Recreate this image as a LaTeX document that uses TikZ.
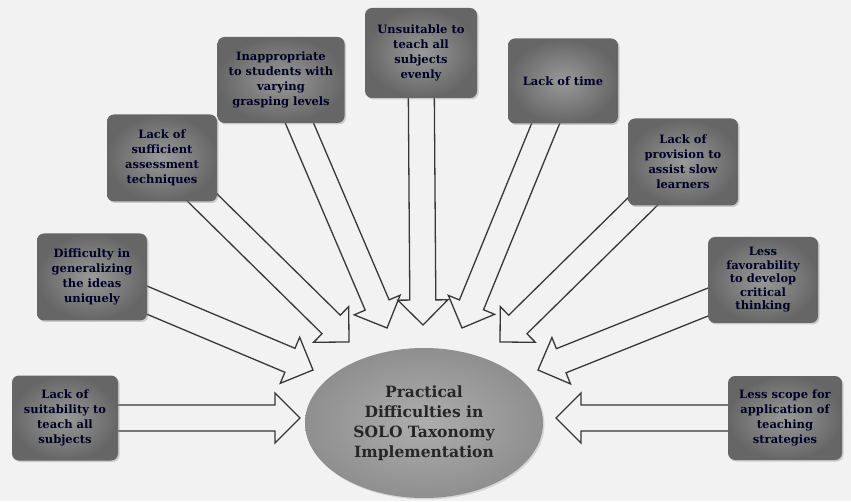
\documentclass[tikz,border=0pt]{standalone}
\usepackage{fontspec}
\setmainfont{DejaVu Serif}
\usetikzlibrary{calc,backgrounds,shadows,shapes.geometric}

% arrow body: half shaft width, half head width, head length
\def\shaftw{13pt}
\def\headw{25pt}
\def\headlen{25}

\tikzset{
  cause/.style={rectangle, rounded corners=7pt, minimum width=110pt, minimum height=87pt,
    inner sep=2pt, align=center, shading=radial, inner color=black!40, outer color=black!60,
    drop shadow={opacity=0.35, shadow xshift=1.5pt, shadow yshift=-1.5pt},
    text=black!85!blue, font=\bfseries\fontsize{11.5}{15}\selectfont},
  hub/.style={ellipse, minimum width=238pt, minimum height=150pt, inner sep=0pt,
    align=center, shading=radial, inner color=black!32, outer color=black!44,
    drop shadow={opacity=0.25, shadow xshift=1.5pt, shadow yshift=-1.5pt},
    text=black!85, font=\bfseries\fontsize{15.5}{20}\selectfont},
  arrowline/.style={draw=black!78, line width=1.3pt, line join=miter}
}

% hollow block arrow from a node (centre) to a tip coordinate
\newcommand{\hollowarrow}[2]{%
  \draw[arrowline] let \p1=($(#2)-(#1)$), \n1={atan2(\y1,\x1)},
      \n2={veclen(\x1,\y1)-\headlen} in
    ($(#1)+(\n1-90:\shaftw)$) -- ($(#1)+(\n1:\n2)+(\n1-90:\shaftw)$)
    -- ($(#1)+(\n1:\n2)+(\n1-90:\headw)$) -- (#2)
    -- ($(#1)+(\n1:\n2)+(\n1+90:\headw)$) -- ($(#1)+(\n1:\n2)+(\n1+90:\shaftw)$)
    -- ($(#1)+(\n1+90:\shaftw)$);
}

\begin{document}
\begin{tikzpicture}[x=1pt,y=1pt]
  \useasboundingbox (0,0) rectangle (851,501);

  \node[hub] (hub) at (424,78) {Practical\\Difficulties in\\SOLO Taxonomy\\Implementation};

  \node[cause, minimum width=106pt, minimum height=85pt] (suit) at (65,83) {Lack of\\suitability to\\teach all\\subjects};
  \node[cause] (general) at (92,224) {Difficulty in\\generalizing\\the ideas\\uniquely};
  \node[cause] (assess) at (162,343) {Lack of\\sufficient\\assessment\\techniques};
  \node[cause, minimum width=127pt, minimum height=86pt] (grasp) at (281,421) {Inappropriate\\to students with\\varying\\grasping levels};
  \node[cause, minimum width=112pt, minimum height=90pt] (evenly) at (421,448) {Unsuitable to\\teach all\\subjects\\evenly};
  \node[cause, minimum height=85pt] (lacktime) at (563,420) {Lack of time};
  \node[cause] (slow) at (683,339) {Lack of\\provision to\\assist slow\\learners};
  \node[cause, minimum height=86pt, font=\bfseries\fontsize{11.5}{13.5}\selectfont] (critical) at (763,221) {Less\\favorability\\to develop\\critical\\thinking};
  \node[cause, minimum width=114pt, minimum height=84pt] (strategy) at (785,83) {Less scope for\\application of\\teaching\\strategies};

  % arrow tips round the ellipse
  \coordinate (tip-suit) at (300,83);
  \coordinate (tip-general) at (313,131);
  \coordinate (tip-assess) at (349,159);
  \coordinate (tip-grasp) at (387,173);
  \coordinate (tip-evenly) at (423,176);
  \coordinate (tip-lacktime) at (462,173);
  \coordinate (tip-slow) at (500,159);
  \coordinate (tip-critical) at (538,131);
  \coordinate (tip-strategy) at (556,83);

  \begin{scope}[on background layer]
    \fill[black!5] (0,0) rectangle (851,501);
    \foreach \c in {suit,general,assess,grasp,evenly,lacktime,slow,critical,strategy}
      \hollowarrow{\c}{tip-\c};
  \end{scope}
\end{tikzpicture}
\end{document}
